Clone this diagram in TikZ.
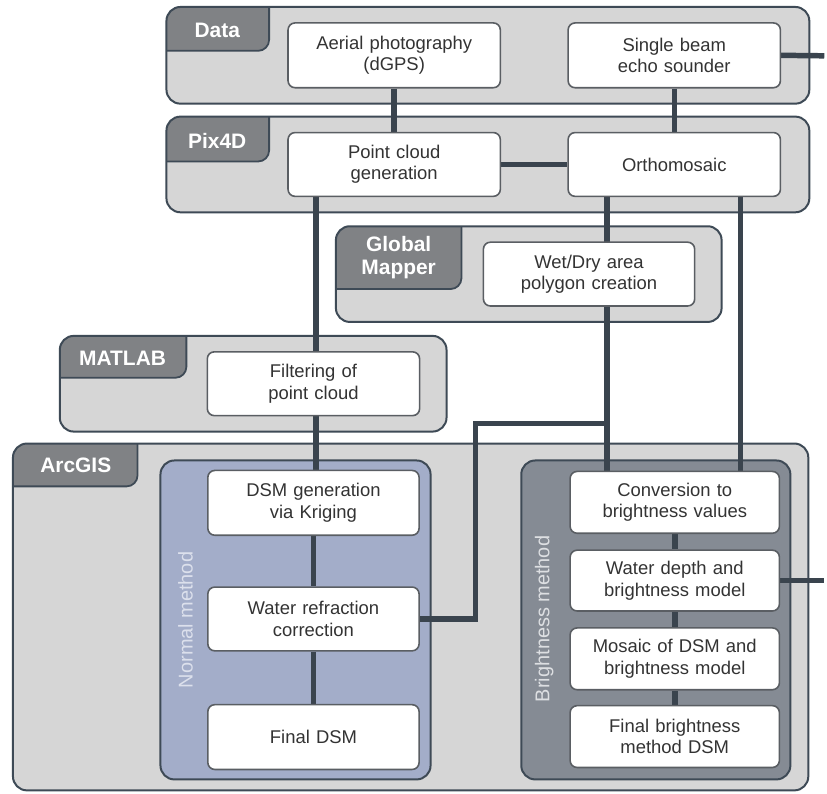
\documentclass[tikz,border=0pt]{standalone}
\usepackage{fontspec}
\setmainfont{Liberation Sans}
\pgfdeclarelayer{panels}
\pgfdeclarelayer{conns}
\pgfsetlayers{panels,conns,main}
\definecolor{panelfill}{HTML}{D6D6D6}
\definecolor{panelline}{HTML}{3E4A56}
\definecolor{tabfill}{HTML}{808285}
\definecolor{normfill}{HTML}{A3ADC9}
\definecolor{brightfill}{HTML}{858B94}
\definecolor{conn}{HTML}{3A444E}
\definecolor{boxline}{HTML}{5A5E63}
\definecolor{txt}{HTML}{333333}
\definecolor{normtxt}{HTML}{DCE0EC}
\definecolor{brighttxt}{HTML}{DDDFE2}
\tikzset{
  box/.style={draw=boxline, line width=1.6pt, fill=white, rounded corners=7pt,
    text width=#1, align=center, inner sep=0pt, text=txt,
    font=\fontsize{18.5}{21.5}\selectfont},
  box/.default=200pt,
  conline/.style={draw=conn, line width=5.5pt},
  tablabel/.style={text=white, font=\fontsize{21}{23}\selectfont\bfseries, align=center},
  sidelabel/.style={font=\fontsize{20}{22}\selectfont, rotate=90}
}
% panel: x0,y0,x1,y1,tabx,taby
\newcommand{\mypanel}[6]{%
  \fill[panelfill, rounded corners=14pt] (#1,#2) rectangle (#3,#4);
  \begin{scope}
    \clip[rounded corners=14pt] (#1,#2) rectangle (#3,#4);
    \fill[tabfill, rounded corners=11pt] (#1-30,#2-30) rectangle (#5,#6);
    \draw[panelline, line width=1.8pt, rounded corners=11pt] (#5,#2-30) -- (#5,#6) -- (#1-30,#6);
  \end{scope}
  \draw[panelline, line width=2pt, rounded corners=14pt] (#1,#2) rectangle (#3,#4);
}
\begin{document}
\begin{tikzpicture}[x=1pt,y=-1pt]
\begin{pgfonlayer}{panels}
\useasboundingbox[fill=white] (0,0) rectangle (827,796);
\mypanel{167}{7}{812}{104}{270}{51}
\mypanel{167}{117}{812}{213}{270}{162}
\mypanel{337}{227}{724}{323}{463}{290}
\mypanel{60}{337}{448}{433}{187}{379}
\mypanel{13}{445}{811}{793}{138}{488}
\draw[panelline, line width=2pt, fill=normfill, rounded corners=14pt] (161,462) rectangle (432,782);
\draw[panelline, line width=2pt, fill=brightfill, rounded corners=14pt] (523,462) rectangle (793,782);
\end{pgfonlayer}
% tab labels
\node[tablabel] (tdata) at (218,31) {Data};
\node[tablabel] (tpix) at (218,141) {Pix4D};
\node[tablabel] (tgm) at (400,258) {Global\\Mapper};
\node[tablabel] (tmat) at (123,359) {MATLAB};
\node[tablabel] (tarc) at (76,467) {ArcGIS};
\node[sidelabel, text=normtxt] (lnorm) at (186,622) {Normal method};
\node[sidelabel, text=brighttxt] (lbright) at (546,621) {Brightness method};
% boxes
\path
  (395.5,55.5) node[box=205pt, minimum width=213pt, minimum height=65pt] (aerial) {Aerial photography\\(dGPS)}
  (676.5,55.5) node[box=205pt, minimum width=213pt, minimum height=65pt] (sbes) {Single beam\\echo sounder}
  (395.5,165) node[box=205pt, minimum width=213pt, minimum height=64pt] (pcg) {Point cloud\\generation}
  (676.5,165) node[box=205pt, minimum width=213pt, minimum height=64pt] (ortho) {Orthomosaic}
  (591,275) node[box=204pt, minimum width=212pt, minimum height=64pt] (wetdry) {Wet/Dry area\\polygon creation}
  (314.5,385) node[box=205pt, minimum width=213pt, minimum height=64pt] (filter) {Filtering of\\point cloud}
  (314.5,504.5) node[box=204pt, minimum width=212pt, minimum height=65pt] (dsm) {DSM generation\\via Kriging}
  (314.5,621) node[box=204pt, minimum width=212pt, minimum height=64pt] (wrc) {Water refraction\\correction}
  (314.5,739.5) node[box=204pt, minimum width=212pt, minimum height=65pt] (final) {Final DSM}
  (677,504) node[box=202pt, minimum width=210pt, minimum height=62pt] (conv) {Conversion to\\brightness values}
  (677,582.5) node[box=202pt, minimum width=210pt, minimum height=61pt] (wdb) {Water depth and\\brightness model}
  (677,661) node[box=202pt, minimum width=210pt, minimum height=62pt] (mosaic) {Mosaic of DSM and\\brightness model}
  (677,739) node[box=202pt, minimum width=210pt, minimum height=62pt] (fbm) {Final brightness\\method DSM};
\coordinate (outA) at (827,56);
\coordinate (outB) at (827,582.5);
\coordinate (join) at (609,425);
\coordinate (oL) at (609,190);
\coordinate (oR) at (743,190);
\coordinate (pL) at (317,190);
\begin{pgfonlayer}{conns}
\draw[conline] (aerial) -- (pcg);
\draw[conline] (sbes) -- (ortho);
\draw[conline] (pcg) -- (ortho);
\draw[conline] (sbes.east) -- (outA);
\draw[conline] (pL) -- (pL |- dsm.center);
\draw[conline] (dsm) -- (wrc);
\draw[conline] (wrc) -- (final);
\draw[conline] (oL) -- (oL |- conv.center);
\draw[conline] (oR) -- (oR |- conv.center);
\draw[conline] (wrc.center) -- ++(162.5,0) |- (join);
\draw[conline] (conv) -- (wdb);
\draw[conline] (wdb) -- (mosaic);
\draw[conline] (mosaic) -- (fbm);
\draw[conline] (wdb.center) -- (outB);
\end{pgfonlayer}
\end{tikzpicture}
\end{document}
